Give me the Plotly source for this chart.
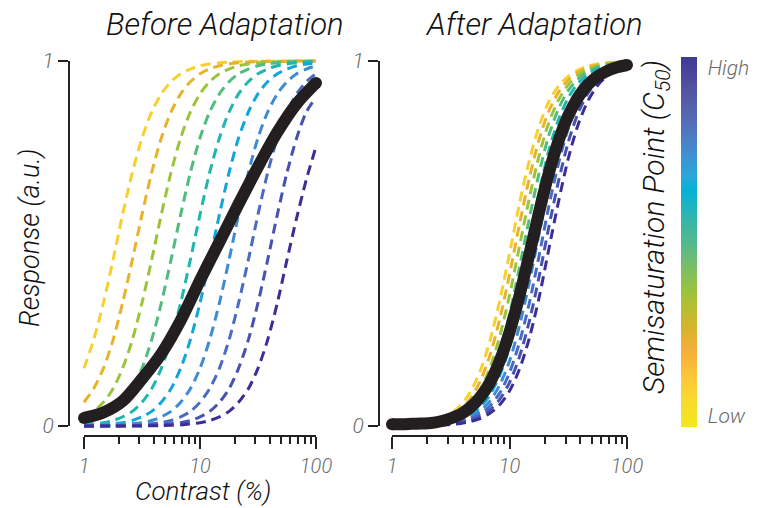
import plotly.graph_objects as go

# ---------------- data ----------------
contrast = [1, 1.21, 1.47, 1.78, 2.15, 2.61, 3.16, 3.83, 4.64, 5.62, 6.81, 8.25, 10,
            12.1, 14.7, 17.8, 21.5, 26.1, 31.6, 38.3, 46.4, 56.2, 68.1, 82.5, 100]
contrast_coarse = [1, 1.47, 2.15, 3.16, 4.64, 6.81, 10, 14.7, 21.5, 31.6, 46.4, 68.1, 100]

# Before adaptation: dashed neurons, low C50 -> high C50
before_1 = [0.158, 0.236, 0.337, 0.455, 0.579, 0.694, 0.789, 0.860, 0.910, 0.943, 0.965, 0.978, 0.987,
            0.992, 0.995, 0.997, 0.998, 0.999, 0.999, 0.999, 1.0, 1.0, 1.0, 1.0, 1.0]
before_2 = [0.065, 0.102, 0.158, 0.236, 0.337, 0.455, 0.579, 0.694, 0.789, 0.860, 0.910, 0.943, 0.965,
            0.978, 0.987, 0.992, 0.995, 0.997, 0.998, 0.999, 0.999, 0.999, 1.0, 1.0, 1.0]
before_3 = [0.025, 0.040, 0.065, 0.102, 0.158, 0.236, 0.337, 0.455, 0.579, 0.694, 0.789, 0.860, 0.910,
            0.943, 0.965, 0.978, 0.987, 0.992, 0.995, 0.997, 0.998, 0.999, 0.999, 0.999, 1.0]
before_4 = [0.009, 0.015, 0.025, 0.040, 0.065, 0.102, 0.158, 0.236, 0.337, 0.455, 0.579, 0.694, 0.789,
            0.860, 0.910, 0.943, 0.965, 0.978, 0.987, 0.992, 0.995, 0.997, 0.998, 0.999, 0.999]
before_5 = [0.003, 0.006, 0.009, 0.015, 0.025, 0.040, 0.065, 0.102, 0.158, 0.236, 0.337, 0.455, 0.579,
            0.694, 0.789, 0.860, 0.910, 0.943, 0.965, 0.978, 0.987, 0.992, 0.995, 0.997, 0.998]
before_6 = [0.001, 0.002, 0.003, 0.006, 0.009, 0.015, 0.025, 0.040, 0.065, 0.102, 0.158, 0.236, 0.337,
            0.455, 0.579, 0.694, 0.789, 0.860, 0.910, 0.943, 0.965, 0.978, 0.987, 0.992, 0.995]
before_7 = [0.000, 0.001, 0.001, 0.002, 0.003, 0.006, 0.009, 0.015, 0.025, 0.040, 0.065, 0.102, 0.158,
            0.236, 0.337, 0.455, 0.579, 0.694, 0.789, 0.860, 0.910, 0.943, 0.965, 0.978, 0.987]
before_8 = [0.000, 0.000, 0.000, 0.001, 0.001, 0.002, 0.003, 0.006, 0.009, 0.015, 0.025, 0.040, 0.065,
            0.102, 0.158, 0.236, 0.337, 0.455, 0.579, 0.694, 0.789, 0.860, 0.910, 0.943, 0.965]
before_9 = [0.000, 0.000, 0.000, 0.000, 0.000, 0.001, 0.001, 0.002, 0.003, 0.006, 0.009, 0.015, 0.025,
            0.040, 0.065, 0.102, 0.158, 0.236, 0.337, 0.455, 0.579, 0.694, 0.789, 0.860, 0.900]
before_10 = [0.000, 0.000, 0.000, 0.000, 0.000, 0.000, 0.000, 0.001, 0.001, 0.002, 0.003, 0.006, 0.009,
             0.015, 0.025, 0.040, 0.065, 0.102, 0.158, 0.236, 0.337, 0.455, 0.570, 0.675, 0.765]
before_population = [0.022, 0.037, 0.068, 0.129, 0.198, 0.289, 0.399, 0.504, 0.608, 0.710, 0.805, 0.883, 0.940]

# After adaptation
after_1 = [0.001, 0.002, 0.004, 0.007, 0.012, 0.020, 0.034, 0.056, 0.093, 0.150, 0.233, 0.343, 0.472,
           0.606, 0.726, 0.820, 0.887, 0.931, 0.958, 0.975, 0.986, 0.992, 0.995, 0.997, 0.998]
after_2 = [0.001, 0.002, 0.003, 0.005, 0.009, 0.016, 0.027, 0.045, 0.075, 0.122, 0.193, 0.292, 0.415,
           0.549, 0.677, 0.783, 0.861, 0.914, 0.948, 0.969, 0.982, 0.989, 0.994, 0.996, 0.998]
after_3 = [0.001, 0.001, 0.002, 0.004, 0.007, 0.012, 0.021, 0.036, 0.060, 0.099, 0.159, 0.245, 0.358,
           0.489, 0.622, 0.739, 0.829, 0.893, 0.935, 0.961, 0.977, 0.986, 0.992, 0.995, 0.997]
after_4 = [0.001, 0.001, 0.002, 0.003, 0.006, 0.010, 0.017, 0.029, 0.048, 0.080, 0.130, 0.204, 0.306,
           0.431, 0.566, 0.691, 0.794, 0.869, 0.919, 0.951, 0.971, 0.983, 0.990, 0.994, 0.997]
after_5 = [0.001, 0.001, 0.002, 0.003, 0.005, 0.008, 0.013, 0.023, 0.038, 0.064, 0.105, 0.168, 0.257,
           0.373, 0.506, 0.638, 0.752, 0.839, 0.899, 0.939, 0.963, 0.978, 0.987, 0.993, 0.996]
after_6 = [0.000, 0.001, 0.001, 0.002, 0.004, 0.006, 0.011, 0.018, 0.030, 0.051, 0.085, 0.138, 0.215,
           0.320, 0.448, 0.582, 0.705, 0.805, 0.876, 0.924, 0.954, 0.973, 0.984, 0.991, 0.995]
after_7 = [0.000, 0.001, 0.001, 0.002, 0.003, 0.005, 0.008, 0.014, 0.024, 0.041, 0.068, 0.112, 0.178,
           0.272, 0.391, 0.524, 0.654, 0.765, 0.849, 0.906, 0.943, 0.966, 0.980, 0.988, 0.993]
after_8 = [0.000, 0.000, 0.001, 0.001, 0.002, 0.004, 0.007, 0.011, 0.019, 0.033, 0.055, 0.090, 0.146,
           0.227, 0.335, 0.464, 0.598, 0.719, 0.815, 0.883, 0.929, 0.957, 0.975, 0.985, 0.991]
after_9 = [0.000, 0.000, 0.001, 0.001, 0.002, 0.003, 0.005, 0.009, 0.015, 0.026, 0.044, 0.073, 0.119,
           0.188, 0.285, 0.407, 0.541, 0.670, 0.777, 0.857, 0.911, 0.947, 0.968, 0.981, 0.989]
after_10 = [0.000, 0.000, 0.000, 0.001, 0.001, 0.002, 0.004, 0.007, 0.012, 0.020, 0.035, 0.058, 0.096,
            0.154, 0.239, 0.350, 0.481, 0.614, 0.732, 0.825, 0.890, 0.933, 0.960, 0.976, 0.986]
after_population = [0.005, 0.005, 0.006, 0.007, 0.008, 0.013, 0.021, 0.032, 0.051, 0.079, 0.119, 0.178, 0.257,
                    0.354, 0.468, 0.584, 0.690, 0.781, 0.850, 0.900, 0.935, 0.958, 0.973, 0.983, 0.989]

curve_colors = ['#F8D02E', '#E8B22A', '#9BC43C', '#52BC7F', '#1FB6AE',
                '#10A6DA', '#3E8BD3', '#4A6BC3', '#4651B0', '#3C2E98']
colorbar_stops = [0, 0.07, 0.13, 0.2, 0.26, 0.33, 0.38, 0.45, 0.5, 0.55, 0.6, 0.64, 0.68,
                  0.73, 0.78, 0.84, 0.9, 0.95, 1]
colorbar_colors = ['#F2E91C', '#F9DA2D', '#FDC83A', '#F6B03A', '#DBB22C', '#B3BE33', '#95C244',
                   '#6FBC72', '#52B88E', '#3AB6A6', '#1AB4C2', '#02B3D6', '#2BA5DC', '#3E93D4',
                   '#4C7EC4', '#5468B2', '#5657A6', '#4A479A', '#3F3A92']
x_tick_vals = [1, 10, 100]
x_tick_text = ['1', '10', '100']
x_minor_vals = [2, 3, 4, 5, 6, 7, 8, 9, 20, 30, 40, 50, 60, 70, 80, 90]
y_tick_vals = [0, 1]
y_tick_text = ['0', '1']

before_curves = [before_1, before_2, before_3, before_4, before_5,
                 before_6, before_7, before_8, before_9, before_10]
after_curves = [after_1, after_2, after_3, after_4, after_5,
                after_6, after_7, after_8, after_9, after_10]

# ---------------- layout helpers ----------------
W, H = 761, 508
def fx(p):
    return p / W
def fy(p):
    return 1 - p / H

FAM = "Roboto"
BLACK = '#231F20'
AXC = '#222222'
GRAY = '#6b6b6b'
tick_font = dict(family=FAM, size=20, color=GRAY, style='italic', weight=300)

fig = go.Figure()

dash_style = '10px,6px'
for i in range(10):
    fig.add_trace(go.Scatter(x=contrast, y=before_curves[i], mode='lines',
                             line=dict(color=curve_colors[i], width=3, dash=dash_style,
                                       shape='spline', smoothing=0.8),
                             xaxis='x', yaxis='y', showlegend=False, hoverinfo='skip'))
for i in range(10):
    fig.add_trace(go.Scatter(x=contrast, y=after_curves[i], mode='lines',
                             line=dict(color=curve_colors[i], width=3, dash=dash_style,
                                       shape='spline', smoothing=0.8),
                             xaxis='x2', yaxis='y2', showlegend=False, hoverinfo='skip'))

BW = 12
fig.add_trace(go.Scatter(x=contrast_coarse, y=before_population, mode='lines',
                         line=dict(color=BLACK, width=BW, shape='spline', smoothing=0.8),
                         xaxis='x', yaxis='y', showlegend=False, hoverinfo='skip'))
fig.add_trace(go.Scatter(x=[contrast_coarse[0], contrast_coarse[-1]],
                         y=[before_population[0], before_population[-1]], mode='markers',
                         marker=dict(color=BLACK, size=BW, line=dict(width=0)),
                         xaxis='x', yaxis='y', showlegend=False, hoverinfo='skip'))
fig.add_trace(go.Scatter(x=contrast, y=after_population, mode='lines',
                         line=dict(color=BLACK, width=BW, shape='spline', smoothing=0.8),
                         xaxis='x2', yaxis='y2', showlegend=False, hoverinfo='skip'))
fig.add_trace(go.Scatter(x=[contrast[0], contrast[-1]],
                         y=[after_population[0], after_population[-1]], mode='markers',
                         marker=dict(color=BLACK, size=BW, line=dict(width=0)),
                         xaxis='x2', yaxis='y2', showlegend=False, hoverinfo='skip'))

# colour bar carrier (not visible itself)
fig.add_trace(go.Scatter(x=[contrast[0], contrast[0]], y=[-5, -5], mode='markers',
                         marker=dict(color=[0, 1], cmin=0, cmax=1, size=1, opacity=0,
                                     colorscale=[[s, c] for s, c in zip(colorbar_stops, colorbar_colors)],
                                     showscale=True,
                                     colorbar=dict(x=fx(681), xanchor='left', xpad=0, ypad=0,
                                                   y=fy(242), yanchor='middle',
                                                   len=370 / H, lenmode='fraction',
                                                   thickness=16, thicknessmode='pixels',
                                                   outlinewidth=0, ticks='outside', ticklen=7,
                                                   tickcolor='rgba(0,0,0,0)',
                                                   tickvals=[0.03, 0.97], ticktext=['Low', 'High'],
                                                   tickfont=dict(tick_font, size=21))),
                         xaxis='x', yaxis='y', showlegend=False, hoverinfo='skip'))

# empty carriers for the display axes
for xa, ya in [('x3', 'y5'), ('x5', 'y3'), ('x4', 'y6'), ('x6', 'y4')]:
    fig.add_trace(go.Scatter(x=[], y=[], xaxis=xa, yaxis=ya, showlegend=False, hoverinfo='skip'))

y_lo = (426 - 436) / 365
y_hi = (426 - 50) / 365
hidden = dict(visible=False, showgrid=False, zeroline=False, automargin=False)

disp_x = dict(type='log', range=[0, 2], showline=True, linewidth=2, linecolor=AXC,
              ticks='outside', ticklen=12, tickwidth=2, tickcolor=AXC,
              tickvals=x_tick_vals, ticktext=x_tick_text, tickfont=tick_font,
              minor=dict(tickvals=x_minor_vals, ticks='outside', ticklen=7, tickwidth=2, tickcolor=AXC,
                         showgrid=False),
              showgrid=False, zeroline=False, fixedrange=True, automargin=False)
disp_y = dict(range=[0, 1], showline=True, linewidth=2, linecolor=AXC,
              ticks='outside', ticklen=10, tickwidth=2, tickcolor=AXC,
              tickvals=y_tick_vals, ticktext=y_tick_text, tickfont=dict(tick_font, size=21),
              showgrid=False, zeroline=False, fixedrange=True, automargin=False)

fig.update_layout(
    width=W, height=H, margin=dict(l=0, r=0, t=0, b=0, autoexpand=False),
    paper_bgcolor='white', plot_bgcolor='rgba(0,0,0,0)',
    xaxis=dict(type='log', domain=[fx(74), fx(324)], range=[(74 - 84) / 116, (324 - 84) / 116],
               anchor='y', **hidden),
    yaxis=dict(domain=[fy(436), fy(50)], range=[y_lo, y_hi], anchor='x', **hidden),
    xaxis2=dict(type='log', domain=[fx(382), fx(637)], range=[(382 - 392) / 117.5, (637 - 392) / 117.5],
                anchor='y2', **hidden),
    yaxis2=dict(domain=[fy(436), fy(50)], range=[y_lo, y_hi], anchor='x2', **hidden),
    xaxis3=dict(domain=[fx(84), fx(316)], anchor='y5', **disp_x),
    yaxis5=dict(domain=[fy(435), fy(300)], anchor='x3', **hidden),
    yaxis3=dict(domain=[fy(426), fy(61)], anchor='x5', **disp_y),
    xaxis5=dict(domain=[fx(70), fx(200)], anchor='y3', **hidden),
    xaxis4=dict(domain=[fx(392), fx(627)], anchor='y6', **disp_x),
    yaxis6=dict(domain=[fy(435), fy(300)], anchor='x4', **hidden),
    yaxis4=dict(domain=[fy(426), fy(61)], anchor='x6', **disp_y),
    xaxis6=dict(domain=[fx(380), fx(500)], anchor='y4', **hidden),
)

title_font = dict(family=FAM, size=31, color='#111111', style='italic', weight=300)
label_font = dict(family=FAM, size=27, color='#111111', style='italic', weight=300)
contrast_font = dict(family=FAM, size=26, color='#111111', style='italic', weight=300)
cb_font = dict(family=FAM, size=30, color='#111111', style='italic', weight=300)
annots = [
    dict(text='Before Adaptation', x=fx(225), y=fy(24), font=title_font),
    dict(text='After Adaptation', x=fx(534), y=fy(24), font=title_font),
    dict(text='Response (a.u.)', x=fx(30), y=fy(238), font=label_font, textangle=-90),
    dict(text='Contrast (%)', x=fx(203), y=fy(491), font=contrast_font),
    dict(text='Semisaturation Point (C<sub>50</sub>)', x=fx(655), y=fy(227), font=cb_font,
         textangle=-90),
]
for a in annots:
    fig.add_annotation(xref='paper', yref='paper', showarrow=False,
                       xanchor='center', yanchor='middle', **a)

fig.write_html("out.html", config={'displayModeBar': False},
               post_script="document.body.style.margin='0';document.body.style.overflow='hidden';")
